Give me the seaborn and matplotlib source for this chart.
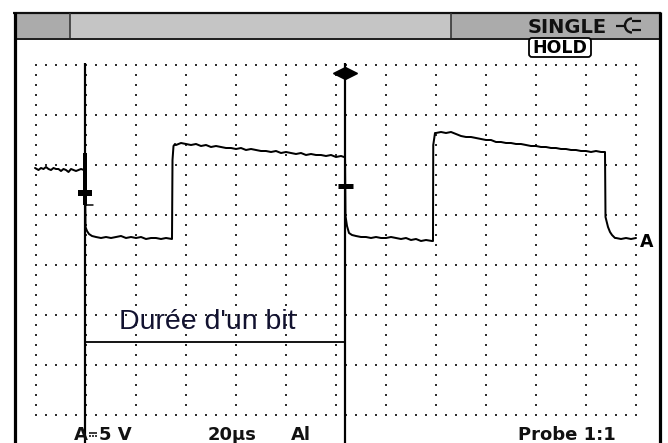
import numpy as np
import matplotlib
matplotlib.use("Agg")
import matplotlib.pyplot as plt
import seaborn as sns
from matplotlib.patches import Rectangle, FancyBboxPatch, Arc

# ---------------- data (time in µs, amplitude in V) ----------------
time_per_div_us = 20
volts_per_div = 5

trace_t = [
    -0.4, 1, 2, 3, 4, 5, 6, 7, 8, 9, 10, 11, 12, 13, 14, 15, 16, 17, 18, 19.2,
    19.6, 19.8, 20.4, 21.2, 22.4,
    24, 26, 28, 30, 32, 34, 36, 38, 40, 42, 44, 46, 48, 50, 52, 54.4,
    54.6, 55.0, 55.6,
    56, 58, 60, 62, 64, 66, 68, 70, 72, 74, 76, 78, 80, 82, 84, 86, 88, 90,
    92, 94, 96, 98, 100, 102, 104, 106, 108, 110, 112, 114, 116, 118, 120, 122, 123.2,
    123.6, 123.8, 124.4, 125.2, 126.4,
    128, 130, 132, 134, 136, 138, 140, 142, 144, 146, 148, 150, 152, 154, 156, 158.4,
    158.8, 158.9, 159.6,
    160, 162, 164, 166, 168, 170, 172, 174, 176, 178, 180, 182, 184, 186, 188, 190,
    192, 194, 196, 198, 200, 202, 204, 206, 208, 210, 212, 214, 216, 218, 220, 222,
    224, 226, 227.2,
    227.6, 227.8, 228.8, 229.6, 230.4, 231.6,
    232, 234, 236, 238, 240,
]
trace_v = [
    4.7, 4.5, 4.7, 4.6, 4.8, 4.6, 4.5, 4.7, 4.6, 4.6, 4.4, 4.6, 4.5, 4.3, 4.6, 4.5, 4.4, 4.5, 4.6, 4.5,
    4.4, -1.2, -1.6, -1.9, -2.1,
    -2.2, -2.3, -2.2, -2.3, -2.2, -2.1, -2.3, -2.2, -2.3, -2.2, -2.4, -2.3, -2.3, -2.4, -2.3, -2.4,
    5.5, 6.9, 7.1,
    7.0, 7.2, 7.1, 7.0, 7.1, 6.9, 7.0, 6.8, 6.9, 6.8, 6.7, 6.7, 6.6, 6.7, 6.5, 6.6, 6.5, 6.4,
    6.4, 6.3, 6.4, 6.2, 6.3, 6.2, 6.1, 6.2, 6.0, 6.1, 6.0, 6.0, 5.9, 6.0, 5.8, 5.9, 5.8,
    5.8, -0.1, -1.1, -1.8, -2.0,
    -2.1, -2.2, -2.2, -2.3, -2.2, -2.3, -2.3, -2.2, -2.3, -2.4, -2.3, -2.5, -2.4, -2.6, -2.5, -2.6,
    -2.6, 7.0, 8.2,
    8.2, 8.3, 8.2, 8.3, 8.1, 7.9, 7.8, 7.8, 7.7, 7.6, 7.5, 7.5, 7.3, 7.3, 7.2, 7.2,
    7.1, 7.1, 7.0, 6.9, 6.9, 6.8, 6.8, 6.7, 6.7, 6.6, 6.6, 6.5, 6.5, 6.4, 6.4, 6.3,
    6.4, 6.3, 6.3,
    6.3, -0.2, -1.2, -1.7, -2.0, -2.3,
    -2.3, -2.4, -2.3, -2.4, -2.3,
]

cursor_t = [19.4, 123.4]
bit_label = "Durée d'un bit"
range_channel = "A"
range_value = "5 V"          # preceded by the DC symbol (drawn as a shape)
bottom_labels = ["20µs", "Al", "Probe 1:1"]
status_label = "SINGLE"
hold_label = "HOLD"
channel_label = "A"

# ---------------- style ----------------
sns.set_theme(style="white")
plt.rcParams['font.family'] = ['DejaVu Sans']

W, H = 668, 443
fig = plt.figure(figsize=(W / 100, H / 100), dpi=100)
fig.patch.set_facecolor('white')

# screen geometry (pixels) -> data units
X0, PX_PER_US = 36, 50 / time_per_div_us
Y0, PX_PER_V = 215, 50 / volts_per_div
def px_t(x):
    return (x - X0) / PX_PER_US
def px_v(y):
    return (Y0 - y) / PX_PER_V
def lw_px(p):
    return p * 0.72

ax = fig.add_axes([0, 0, 1, 1])
ax.set_xlim(px_t(0), px_t(W))
ax.set_ylim(px_v(H), px_v(0))
ax.axis('off')
ax.set_facecolor('white')

# dotted graticule
cols = np.arange(0, 12 * time_per_div_us + 0.1, time_per_div_us)
rows = np.arange(15, -20 - 0.1, -volts_per_div)
vdots = np.arange(15, -20 - 0.1, -1)
hdots = np.arange(0, 12 * time_per_div_us + 0.1, 4)
gx = np.concatenate([np.repeat(cols, len(vdots)), np.tile(hdots, len(rows))])
gy = np.concatenate([np.tile(vdots, len(cols)), np.repeat(rows, len(hdots))])
ax.scatter(gx, gy, s=2.6, marker='s', color='#2e2e2e', linewidths=0, zorder=1)

# trace
sns.lineplot(x=trace_t, y=trace_v, ax=ax, color='black', linewidth=lw_px(2.0),
             sort=False, estimator=None, zorder=3, legend=False)

# cursors
for t in cursor_t:
    ax.plot([t, t], [px_v(63), px_v(H + 2)], color='black', lw=lw_px(2.2), zorder=4,
            solid_capstyle='butt')
# trigger indicator on left cursor
tl, tr = cursor_t
ax.plot([tl, tl], [px_v(153), px_v(205)], color='black', lw=lw_px(4), zorder=4,
        solid_capstyle='butt')
ax.plot([tl, tl + 8 / PX_PER_US], [px_v(205), px_v(205)], color='black', lw=lw_px(1.5), zorder=4)
ax.plot([tl - 7 / PX_PER_US, tl + 7 / PX_PER_US], [px_v(193), px_v(193)], color='black',
        lw=lw_px(6), solid_capstyle='butt', zorder=4)
ax.plot([tr - 7 / PX_PER_US, tr + 8 / PX_PER_US], [px_v(185.5), px_v(185.5)], color='black',
        lw=lw_px(5), solid_capstyle='butt', zorder=4)
# active cursor arrows
ax.plot([tr - 6 / PX_PER_US], [px_v(73)], marker='<', ms=8.5, color='black', zorder=5)
ax.plot([tr + 6 / PX_PER_US], [px_v(73)], marker='>', ms=8.5, color='black', zorder=5)

# bit duration annotation
ax.plot(cursor_t, [px_v(342), px_v(342)], color='black', lw=lw_px(1.8), zorder=4)
ax.text(px_t(207), px_v(329), bit_label, ha='center', va='baseline', fontsize=20.5,
        family=['Liberation Sans', 'DejaVu Sans'], color='#121230', zorder=6)

# ---------------- instrument frame (pixel overlay) ----------------
ov = fig.add_axes([0, 0, 1, 1])
ov.set_xlim(0, W)
ov.set_ylim(H, 0)
ov.axis('off')
ov.patch.set_alpha(0)

ov.add_patch(Rectangle((14, 13), 56, 25, fc='#ababab', ec='none'))
ov.add_patch(Rectangle((70, 13), 381, 25, fc='#c5c5c5', ec='none'))
ov.add_patch(Rectangle((451, 13), 208, 25, fc='#ababab', ec='none'))
ov.plot([13, 661], [12.5, 12.5], color='#111111', lw=lw_px(2.2), solid_capstyle='butt')
ov.plot([14, 659], [38.5, 38.5], color='#222222', lw=lw_px(2), solid_capstyle='butt')
ov.plot([14.5, 14.5], [11.5, H + 2], color='black', lw=lw_px(3.2), solid_capstyle='butt')
ov.plot([659.5, 659.5], [11.5, H + 2], color='black', lw=lw_px(3.2), solid_capstyle='butt')
for sx in (70, 451):
    ov.plot([sx, sx], [13, 38], color='#333333', lw=lw_px(1.6), solid_capstyle='butt')

# status text + plug icon
ov.text(528, 33, status_label, ha='left', va='baseline', fontsize=14, fontweight='bold',
        color='#111111')
ov.plot([616, 624], [25.5, 25.5], color='#111111', lw=lw_px(2.2), solid_capstyle='butt')
ov.add_patch(Arc((632, 25.5), 14, 14, theta1=90, theta2=270, color='#111111', lw=lw_px(2.4)))
ov.plot([632, 641], [21, 21], color='#111111', lw=lw_px(2.2), solid_capstyle='butt')
ov.plot([632, 641], [30, 30], color='#111111', lw=lw_px(2.2), solid_capstyle='butt')

# HOLD badge
ov.add_patch(FancyBboxPatch((529, 38), 62, 19, boxstyle='round,pad=0,rounding_size=3',
                            fc='white', ec='black', lw=lw_px(1.8), zorder=5))
ov.text(560, 48, hold_label, ha='center', va='center', fontsize=12.5, fontweight='bold',
        color='black', zorder=6)

# channel marker
ov.text(640, 247, channel_label, ha='left', va='baseline', fontsize=12.5, fontweight='bold',
        color='black')

# bottom readout
ov.text(74, 440, range_channel, ha='left', va='baseline', fontsize=13, fontweight='bold',
        color='#111111')
# DC symbol (no installed font has U+2393): solid bar over dashes
ov.plot([89, 97], [432.5, 432.5], color='#111111', lw=lw_px(1.6), solid_capstyle='butt')
for dx in (89, 92.2, 95.4):
    ov.plot([dx, dx + 1.8], [436, 436], color='#111111', lw=lw_px(1.6), solid_capstyle='butt')
ov.text(99, 440, range_value, ha='left', va='baseline', fontsize=13, fontweight='bold',
        color='#111111')
for lbl, x in zip(bottom_labels, (208, 291, 518)):
    ov.text(x, 440, lbl, ha='left', va='baseline', fontsize=13, fontweight='bold',
            color='#111111')

fig.savefig('out.png', dpi=100, facecolor='white')
